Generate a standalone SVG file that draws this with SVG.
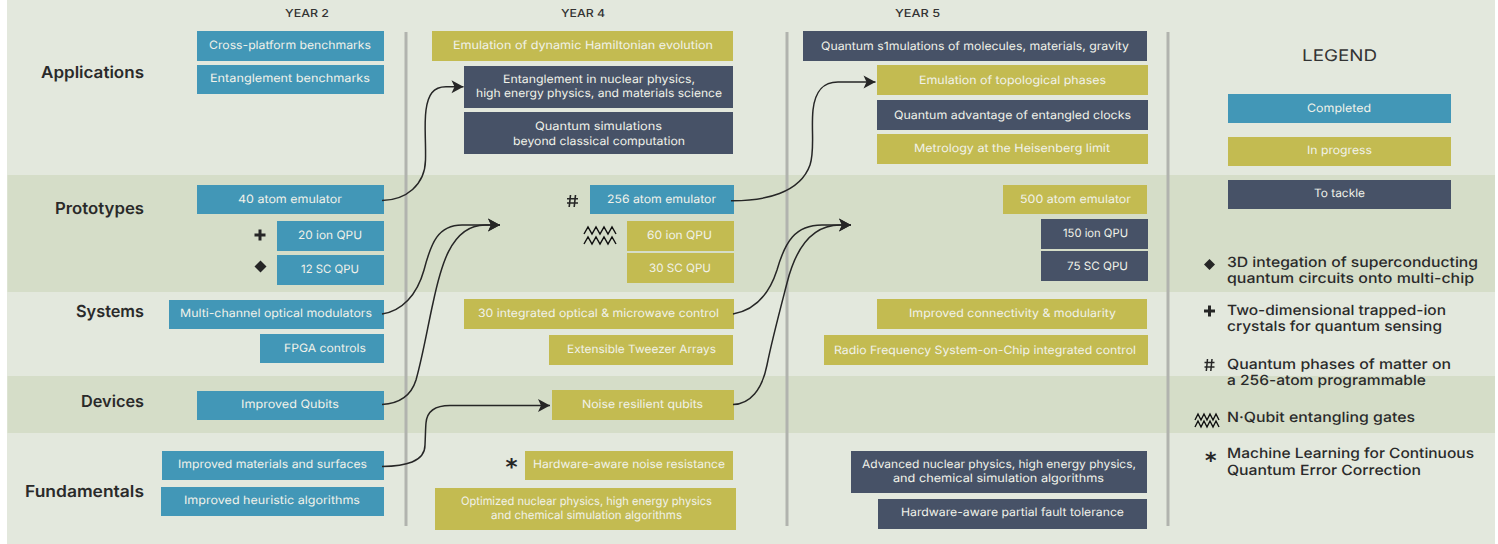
<svg xmlns="http://www.w3.org/2000/svg" width="1498" height="544" viewBox="0 0 1498 544">
<style>
text{font-family:Inter,"Open Sans","Liberation Sans",sans-serif;text-rendering:geometricPrecision}
.b{fill:#4297b7}.o{fill:#c3bb51}.n{fill:#475267}
.t{font-size:11.5px;fill:#f1f2ea}
.y{font-size:11px;fill:#333;font-weight:500}
.h{font-size:16.5px;fill:#2a2a2a;font-weight:600}
.l{font-size:14px;fill:#2a2a2a;font-weight:500}
.v{stroke:#b1b3ae;stroke-width:3;fill:none}
.c{fill:none;stroke:#262626;stroke-width:1.5}
.s{fill:#262626}
.w{fill:none;stroke:#111;stroke-width:1.4}
.k{fill:#262626;font-family:"DejaVu Sans",sans-serif;font-weight:700}
</style>
<defs>
<marker id="a" markerUnits="userSpaceOnUse" markerWidth="16" markerHeight="16" refX="13" refY="8" orient="auto"><path d="M1 1.500 L13 8 L1 14.500 L4 8Z" fill="#262626"/></marker>
</defs>
<rect width="1498" height="544" fill="#fff"/>
<rect x="7" y="0" width="1488" height="544" fill="#e3e8dd"/>
<rect x="7.500" y="175" width="1487.500" height="117" fill="#d5ddc8"/>
<rect x="7.500" y="376" width="1487.500" height="57" fill="#d5ddc8"/>
<g id="dividers"><path class="v" d="M406 32V526"/><path class="v" d="M787 32V526"/><path class="v" d="M1168 32V526"/></g>
<g id="headings">
<text class="y" x="285" y="17" textLength="44" lengthAdjust="spacingAndGlyphs">YEAR 2</text>
<text class="y" x="561" y="17" textLength="44" lengthAdjust="spacingAndGlyphs">YEAR 4</text>
<text class="y" x="895" y="17" textLength="45" lengthAdjust="spacingAndGlyphs">YEAR 5</text>
<text class="h" x="41" y="78" textLength="103" lengthAdjust="spacingAndGlyphs">Applications</text>
<text class="h" x="55" y="214" textLength="89" lengthAdjust="spacingAndGlyphs">Prototypes</text>
<text class="h" x="76" y="317" textLength="68" lengthAdjust="spacingAndGlyphs">Systems</text>
<text class="h" x="81" y="407" textLength="63" lengthAdjust="spacingAndGlyphs">Devices</text>
<text class="h" x="25" y="497" textLength="119" lengthAdjust="spacingAndGlyphs">Fundamentals</text>
</g>
<g id="n1"><rect class="b" x="197" y="31" width="187" height="30"/><text class="t" x="209" y="49" textLength="162" lengthAdjust="spacingAndGlyphs">Cross-platform benchmarks</text></g>
<g id="n2"><rect class="b" x="197" y="65" width="187" height="29"/><text class="t" x="210" y="82" textLength="160" lengthAdjust="spacingAndGlyphs">Entanglement benchmarks</text></g>
<g id="n3"><rect class="b" x="197" y="185" width="187" height="29"/><text class="t" x="238" y="203" textLength="104" lengthAdjust="spacingAndGlyphs">40 atom emulator</text></g>
<g id="n4"><rect class="b" x="277" y="221" width="107" height="30"/><text class="t" x="298" y="239" textLength="64" lengthAdjust="spacingAndGlyphs">20 ion QPU</text></g>
<g id="n5"><rect class="b" x="277" y="255" width="107" height="30"/><text class="t" x="301" y="273" textLength="58" lengthAdjust="spacingAndGlyphs">12 SC QPU</text></g>
<g id="n6"><rect class="b" x="169" y="300" width="215" height="29"/><text class="t" x="180" y="317" textLength="192" lengthAdjust="spacingAndGlyphs">Multi-channel optical modulators</text></g>
<g id="n7"><rect class="b" x="260" y="334" width="124" height="29"/><text class="t" x="284" y="352" textLength="82" lengthAdjust="spacingAndGlyphs">FPGA controls</text></g>
<g id="n8"><rect class="b" x="197" y="391" width="187" height="29"/><text class="t" x="241" y="408" textLength="98" lengthAdjust="spacingAndGlyphs">Improved Qubits</text></g>
<g id="n9"><rect class="b" x="162" y="451" width="222" height="29"/><text class="t" x="178" y="468" textLength="189" lengthAdjust="spacingAndGlyphs">Improved materials and surfaces</text></g>
<g id="n10"><rect class="b" x="161" y="487" width="223" height="29"/><text class="t" x="184" y="504" textLength="176" lengthAdjust="spacingAndGlyphs">Improved heuristic algorithms</text></g>
<g id="n11"><rect class="o" x="432" y="31" width="301" height="30"/><text class="t" x="453" y="49" textLength="260" lengthAdjust="spacingAndGlyphs">Emulation of dynamic Hamiltonian evolution</text></g>
<g id="n12"><rect class="n" x="464" y="66" width="269" height="42"/><text class="t" x="503" y="83" textLength="192" lengthAdjust="spacingAndGlyphs">Entanglement in nuclear physics,</text><text class="t" x="476" y="97" textLength="246" lengthAdjust="spacingAndGlyphs">high energy physics, and materials science</text></g>
<g id="n13"><rect class="n" x="464" y="112" width="269" height="42"/><text class="t" x="535" y="130" textLength="127" lengthAdjust="spacingAndGlyphs">Quantum simulations</text><text class="t" x="513" y="145" textLength="172" lengthAdjust="spacingAndGlyphs">beyond classical computation</text></g>
<g id="n14"><rect class="b" x="590" y="185" width="144" height="29"/><text class="t" x="607" y="203" textLength="109" lengthAdjust="spacingAndGlyphs">256 atom emulator</text></g>
<g id="n15"><rect class="o" x="627" y="221" width="107" height="30"/><text class="t" x="647" y="239" textLength="65" lengthAdjust="spacingAndGlyphs">60 ion QPU</text></g>
<g id="n16"><rect class="o" x="627" y="253" width="107" height="30"/><text class="t" x="649" y="272" textLength="62" lengthAdjust="spacingAndGlyphs">30 SC QPU</text></g>
<g id="n17"><rect class="o" x="464" y="299" width="270" height="30"/><text class="t" x="478" y="317" textLength="241" lengthAdjust="spacingAndGlyphs">30 integrated optical &amp; microwave control</text></g>
<g id="n18"><rect class="o" x="549" y="335" width="184" height="30"/><text class="t" x="567" y="353" textLength="149" lengthAdjust="spacingAndGlyphs">Extensible Tweezer Arrays</text></g>
<g id="n19"><rect class="o" x="552" y="390" width="182" height="30"/><text class="t" x="582" y="408" textLength="121" lengthAdjust="spacingAndGlyphs">Noise resilient qubits</text></g>
<g id="n20"><rect class="o" x="525" y="451" width="208" height="29"/><text class="t" x="533" y="468" textLength="192" lengthAdjust="spacingAndGlyphs">Hardware-aware noise resistance</text></g>
<g id="n21"><rect class="o" x="435" y="488" width="301" height="42"/><text class="t" x="461" y="505" textLength="251" lengthAdjust="spacingAndGlyphs">Optimized nuclear physics, high energy physics</text><text class="t" x="491" y="519" textLength="191" lengthAdjust="spacingAndGlyphs">and chemical simulation algorithms</text></g>
<g id="n22"><rect class="n" x="803" y="31" width="344" height="30"/><text class="t" x="821" y="50" textLength="308" lengthAdjust="spacingAndGlyphs">Quantum s1mulations of molecules, materials, gravity</text></g>
<g id="n23"><rect class="o" x="877" y="65" width="271" height="30"/><text class="t" x="919" y="84" textLength="187" lengthAdjust="spacingAndGlyphs">Emulation of topological phases</text></g>
<g id="n24"><rect class="n" x="877" y="100" width="271" height="30"/><text class="t" x="894" y="119" textLength="237" lengthAdjust="spacingAndGlyphs">Quantum advantage of entangled clocks</text></g>
<g id="n25"><rect class="o" x="877" y="134" width="271" height="30"/><text class="t" x="914" y="152" textLength="196" lengthAdjust="spacingAndGlyphs">Metrology at the Heisenberg limit</text></g>
<g id="n26"><rect class="o" x="1003" y="185" width="144" height="29"/><text class="t" x="1020" y="203" textLength="111" lengthAdjust="spacingAndGlyphs">500 atom emulator</text></g>
<g id="n27"><rect class="n" x="1041" y="219" width="107" height="30"/><text class="t" x="1063" y="237" textLength="65" lengthAdjust="spacingAndGlyphs">150 ion QPU</text></g>
<g id="n28"><rect class="n" x="1041" y="251" width="107" height="30"/><text class="t" x="1067" y="270" textLength="61" lengthAdjust="spacingAndGlyphs">75 SC QPU</text></g>
<g id="n29"><rect class="o" x="877" y="299" width="270" height="30"/><text class="t" x="909" y="317" textLength="207" lengthAdjust="spacingAndGlyphs">Improved connectivity &amp; modularity</text></g>
<g id="n30"><rect class="o" x="824" y="335" width="324" height="30"/><text class="t" x="834" y="354" textLength="302" lengthAdjust="spacingAndGlyphs">Radio Frequency System-on-Chip integrated control</text></g>
<g id="n31"><rect class="n" x="851" y="451" width="296" height="42"/><text class="t" x="862" y="468" textLength="274" lengthAdjust="spacingAndGlyphs">Advanced nuclear physics, high energy physics,</text><text class="t" x="893" y="482" textLength="211" lengthAdjust="spacingAndGlyphs">and chemical simulation algorithms</text></g>
<g id="n32"><rect class="n" x="878" y="499" width="269" height="30"/><text class="t" x="901" y="516" textLength="223" lengthAdjust="spacingAndGlyphs">Hardware-aware partial fault tolerance</text></g>
<g id="connectors">
<path class="c" marker-end="url(#a)" d="M382 200.500C406 200 425 185 425.500 160C426 140 424 125 426 110C428 95 433 86.700 446 86.700L463.500 86.700"/>
<path class="c" marker-end="url(#a)" d="M382 314C402 311 417 295 424 270C431 243 438 225 462 225L500 225"/>
<path class="c" marker-end="url(#a)" d="M382 404.500C400 403.500 411 396 416 380C423 355 428 325 433 303C440 270 450 225 485 225L500 225"/>
<path class="c" marker-end="url(#a)" d="M382 466.500C405 466 425 462 425 445C425.500 435 425.500 428 426 423C427 410 436 405.500 450 405.500L550 405.500"/>
<path class="c" marker-end="url(#a)" d="M731 200.700C765 201 800 193 810 165C815 150 811 130 813 110C815 92 822 82 838 82L875.500 82"/>
<path class="c" marker-end="url(#a)" d="M733 314C755 310 769 295 777 270C785 242 795 225 822 225L851 225"/>
<path class="c" marker-end="url(#a)" d="M733 404.500C750 404 762 390 767 365C772 340 780 310 787 283C794 255 808 225 840 225L851 225"/>
</g>
<g id="markers">
<path class="s" d="M258.500 229.500h3v4h4v3h-4v4h-3v-4h-4v-3h4z"/>
<path class="s" d="M260.500 260.500l6 6 -6 6 -6 -6z"/>
<path d="M570.500 195l-1.300 12M575.500 195l-1.300 12M567 198.800h11M567 203h11" fill="none" stroke="#262626" stroke-width="1.600"/>
<path class="w" d="M584 234l4-7 4 7 4-7 4 7 4-7 4 7 4-7 4 7M584 244l4-7 4 7 4-7 4 7 4-7 4 7 4-7 4 7"/>
<text class="k" x="505.500" y="475" style="font-size:23px">*</text>
</g>
<g id="legend">
<text x="1302" y="61" style="font-size:16px;fill:#333" textLength="75" lengthAdjust="spacingAndGlyphs">LEGEND</text>
<g id="lg1"><rect class="b" x="1228" y="94" width="223" height="29"/><text class="t" x="1307" y="112" textLength="64" lengthAdjust="spacingAndGlyphs">Completed</text></g>
<g id="lg2"><rect class="o" x="1228" y="137" width="223" height="29"/><text class="t" x="1307" y="154" textLength="65" lengthAdjust="spacingAndGlyphs">In progress</text></g>
<g id="lg3"><rect class="n" x="1228" y="180" width="223" height="29"/><text class="t" x="1314" y="197" textLength="51" lengthAdjust="spacingAndGlyphs">To tackle</text></g>
<path class="s" d="M1209.500 259l5.500 5.500 -5.500 5.500 -5.500 -5.500z"/>
<path class="s" d="M1208 305.500h3v4h4v3h-4v4h-3v-4h-4v-3h4z"/>
<path d="M1207.500 359l-1.200 12M1212 359l-1.200 12M1204.500 362.500h10M1204.500 367h10" fill="none" stroke="#262626" stroke-width="1.500"/>
<path class="w" d="M1195 420l3-6 3 6 3-6 3 6 3-6 3 6 3-6 3 6M1195 427l3-6 3 6 3-6 3 6 3-6 3 6 3-6 3 6"/>
<text class="k" x="1205" y="468" style="font-size:22px">*</text>
<text class="l" x="1227" y="267" textLength="251" lengthAdjust="spacingAndGlyphs">3D integation of superconducting</text>
<text class="l" x="1227" y="283" textLength="247" lengthAdjust="spacingAndGlyphs">quantum circuits onto multi-chip</text>
<text class="l" x="1227" y="315" textLength="219" lengthAdjust="spacingAndGlyphs">Two-dimensional trapped-ion</text>
<text class="l" x="1227" y="331" textLength="215" lengthAdjust="spacingAndGlyphs">crystals for quantum sensing</text>
<text class="l" x="1227" y="369" textLength="224" lengthAdjust="spacingAndGlyphs">Quantum phases of matter on</text>
<text class="l" x="1227" y="385" textLength="199" lengthAdjust="spacingAndGlyphs">a 256-atom programmable</text>
<text class="l" x="1227" y="422" textLength="188" lengthAdjust="spacingAndGlyphs">N·Qubit entangling gates</text>
<text class="l" x="1227" y="458" textLength="247" lengthAdjust="spacingAndGlyphs">Machine Learning for Continuous</text>
<text class="l" x="1227" y="475" textLength="194" lengthAdjust="spacingAndGlyphs">Quantum Error Correction</text>
</g>
</svg>
